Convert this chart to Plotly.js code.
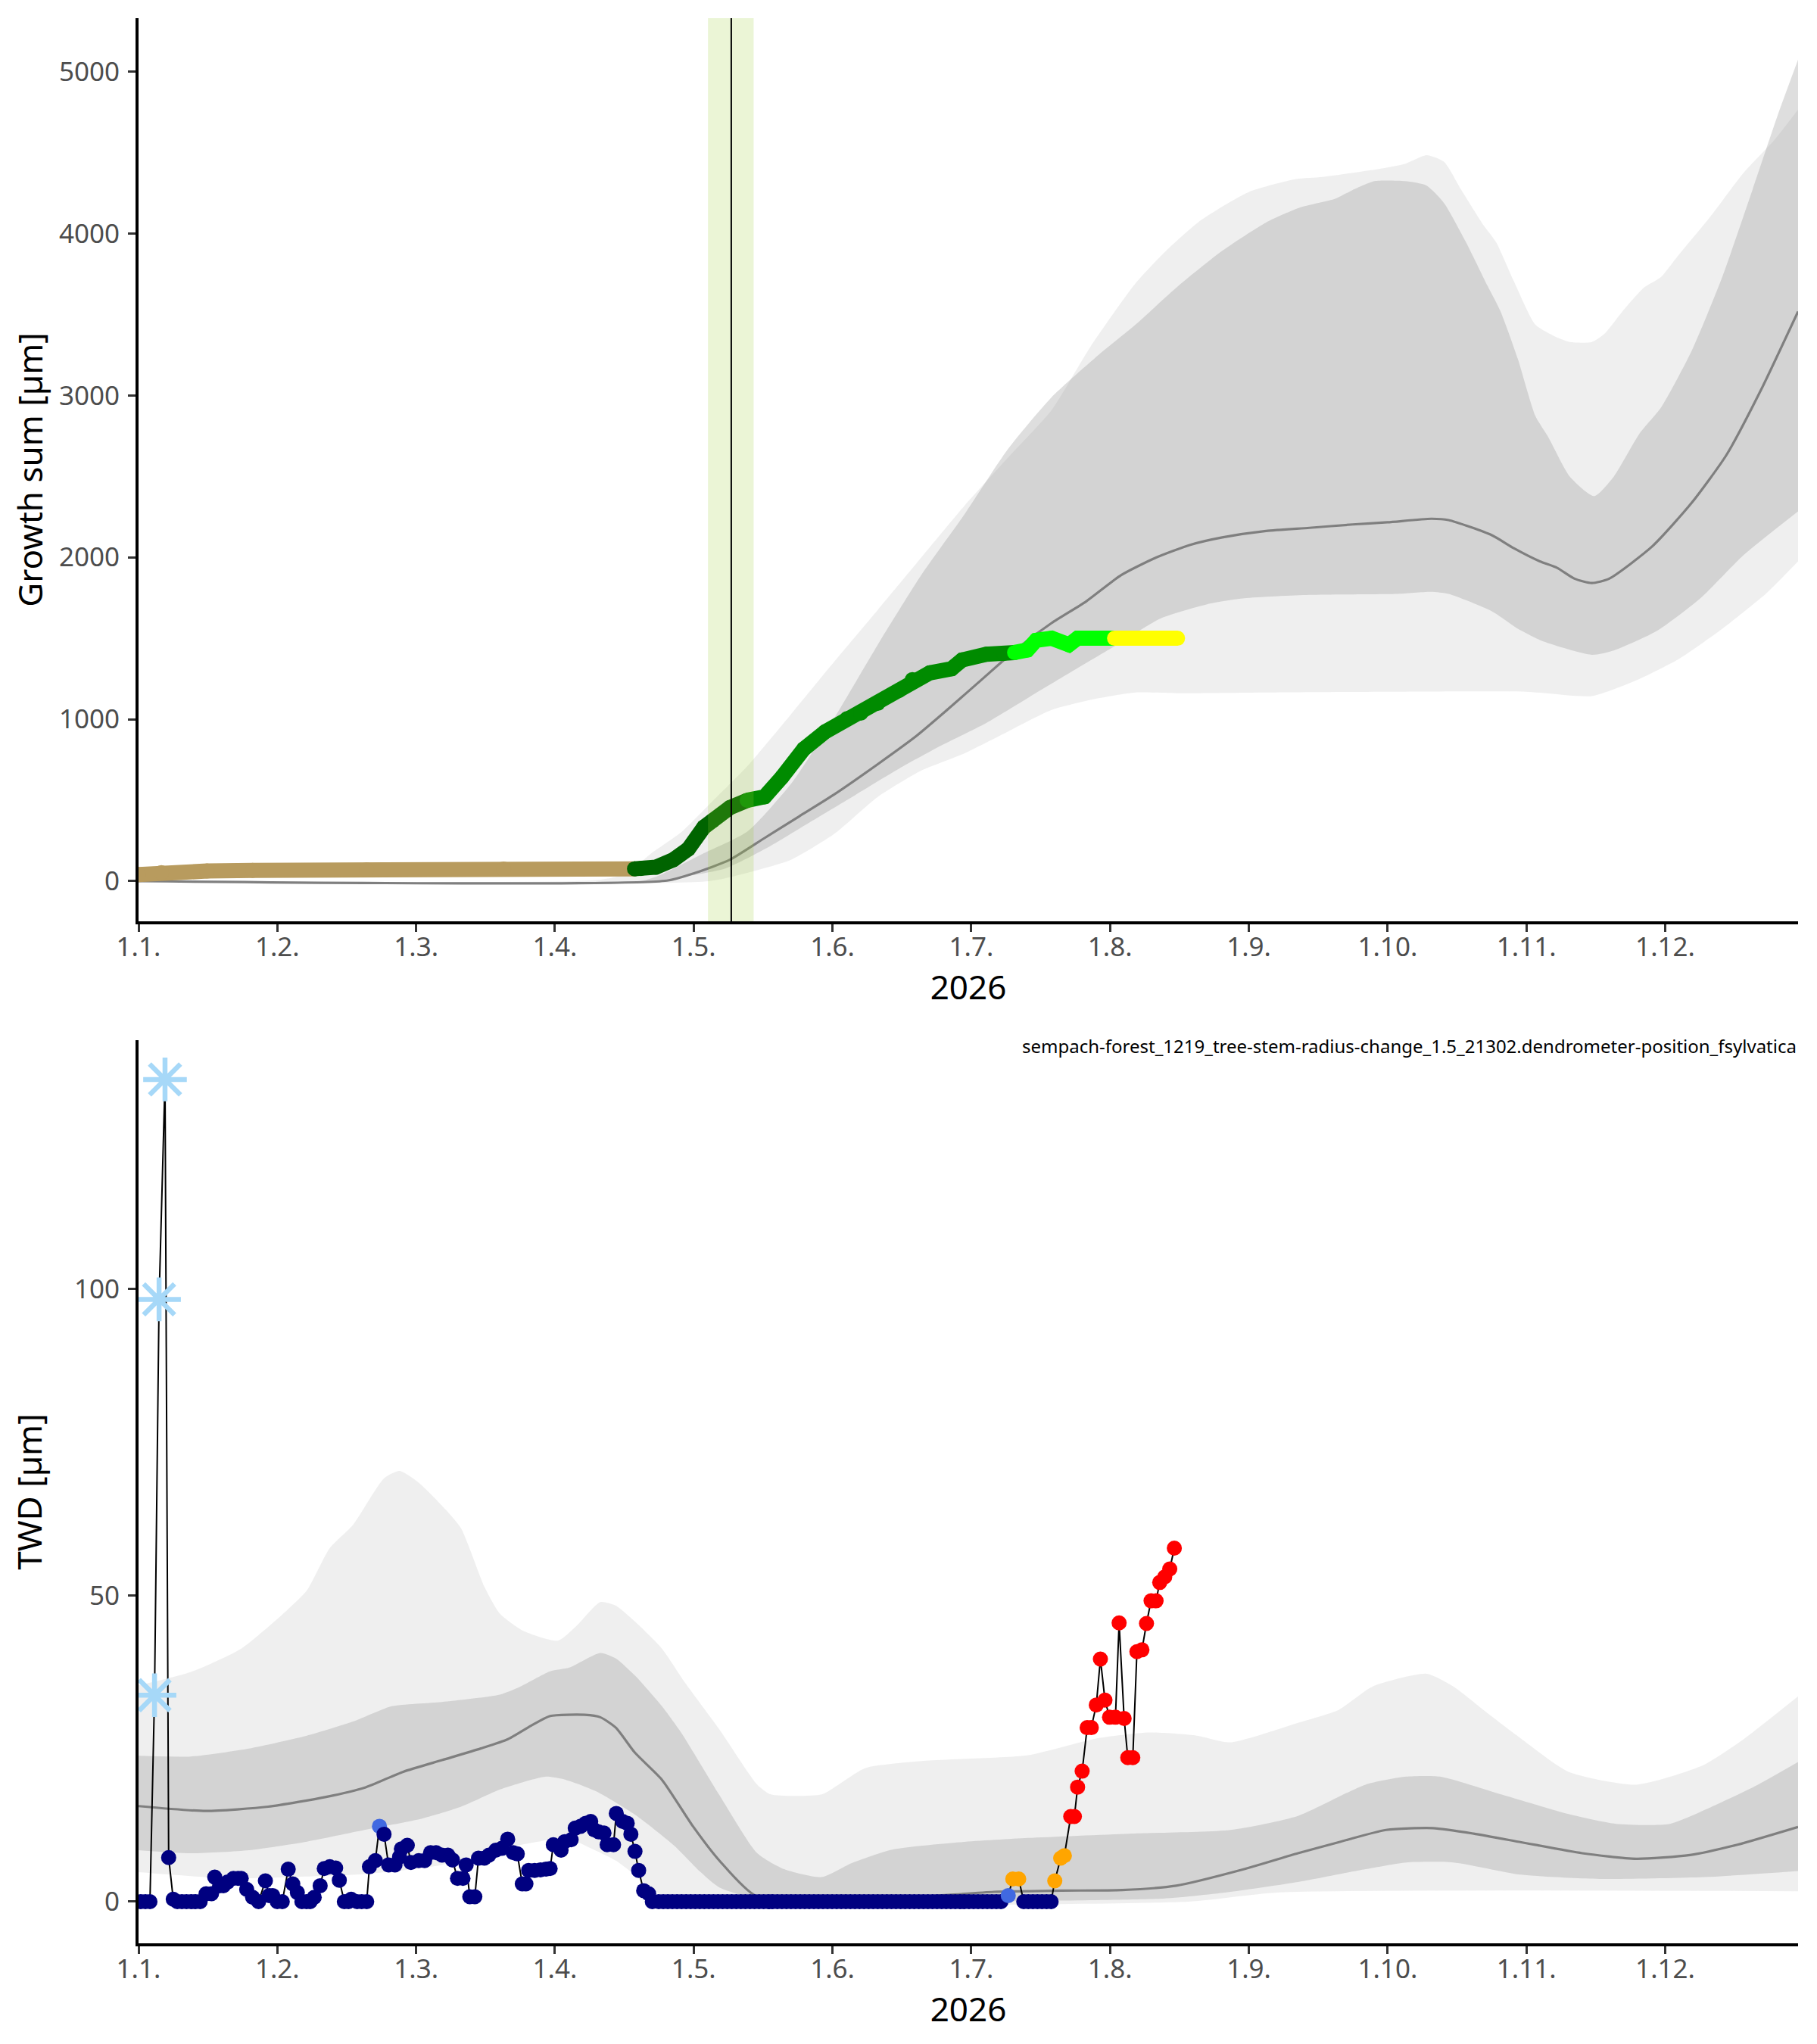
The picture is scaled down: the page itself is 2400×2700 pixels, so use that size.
<!DOCTYPE html>
<html>
<head>
<meta charset="utf-8">
<script src="https://cdn.plot.ly/plotly-3.0.1.min.js"></script>
<style>
  html, body { margin: 0; padding: 0; background: #ffffff; }
  #chart { width: 2400px; height: 2700px; }
</style>
</head>
<body>
<div id="chart"></div>
<script>
// ----- axis labels -----
const MONTH_LABELS = ["1.1.", "1.2.", "1.3.", "1.4.", "1.5.", "1.6.",
                      "1.7.", "1.8.", "1.9.", "1.10.", "1.11.", "1.12."];
const YEAR_LABEL = "2026";
const SENSOR_NAME = "sempach-forest_1219_tree-stem-radius-change_1.5_21302.dendrometer-position_fsylvatica";

// ----- growth sum (top), [day of year, µm] -----
const GROWTH_OUTER_HIGH = [[0,0],[100,5],[105,30],[109.6,105],[112.4,172],[119.1,306],[125.8,494],[133.4,709],
  [143,1031],[152.4,1353],[162,1675],[171.5,1997],[181,2318],[190.5,2614],[200.1,2909],[208.6,3300],[218.5,3692],
  [225.2,3893],[232.8,4081],[243.3,4256],[253.7,4336],[259.5,4349],[272.8,4403],[277.5,4430],[282.3,4484],
  [286.1,4443],[289.9,4269],[294.7,4054],[297.5,3947],[301.4,3706],[306.1,3437],[310,3370],[313.7,3330],
  [318.5,3330],[321.4,3384],[325.2,3518],[329.9,3665],[333.7,3732],[337.5,3866],[344.2,4094],[351.8,4376],
  [358.5,4577],[363.7,4765]];
const GROWTH_OUTER_LOW = [[0,0],[125,0],[133.4,51],[143,132],[152.4,290],[162,520],[171.5,682],[181,789],
  [190.5,923],[200.1,1057],[209.6,1125],[218.5,1165],[228,1160],[247,1165],[275,1170],[304,1170],[318.5,1143],
  [328,1237],[337.5,1371],[347.1,1559],[356.6,1774],[363.7,1975]];
const GROWTH_INNER_HIGH = [[0,0],[110,0],[114.4,38],[123.9,172],[133.4,306],[143,601],[152.4,1004],[162,1460],
  [171.5,1889],[181,2265],[190.5,2667],[200.1,2989],[209.6,3231],[218.5,3437],[228,3679],[237.5,3893],
  [247.1,4068],[254.7,4162],[262.3,4215],[266.1,4269],[270.9,4323],[277.5,4323],[282.3,4296],[286.1,4188],
  [290.9,3947],[295.6,3679],[298.5,3518],[302.3,3223],[306.1,2874],[309,2740],[313.7,2498],[319,2378],
  [323.3,2498],[329,2766],[333.7,2927],[340.4,3276],[347.1,3732],[353.7,4269],[359.5,4752],[363.7,5074]];
const GROWTH_INNER_LOW = [[0,0],[115,0],[119.1,25],[128.6,78],[138.2,212],[147.7,373],[157.2,534],[166.7,695],
  [176.3,843],[185.8,977],[195.3,1138],[204.8,1299],[214.4,1460],[223.9,1621],[235,1715],[242.3,1747],
  [256.6,1768],[275.6,1774],[283.3,1787],[287.1,1774],[296.6,1667],[302.3,1559],[308,1479],[318.5,1398],
  [323.3,1425],[332.8,1546],[342.3,1747],[351.8,2015],[363.7,2284]];
const GROWTH_MEAN = [[0,0],[115.8,3],[122,51],[129.6,132],[137.2,266],[144.8,400],[152.4,534],[162,722],
  [170.5,897],[177.2,1057],[184.8,1245],[192.4,1433],[200.1,1594],[207.7,1728],[215.3,1889],[222.9,1997],
  [230.5,2077],[237.5,2123],[247.1,2163],[256.6,2182],[266.1,2203],[273.7,2216],[283.3,2238],[287.1,2230],
  [296.6,2136],[301.4,2056],[307.1,1975],[310.9,1935],[314.7,1868],[318.5,1841],[322.3,1868],[331.8,2069],
  [340.4,2337],[348,2632],[355.6,3035],[363.7,3518]];

// this year's growth, one list per phase
const GROWTH_DORMANT = [[0,40],[5,52],[15,62],[25,66],[50,70],[80,74],[108.7,76]];
const GROWTH_ONSET   = [[108.7,76],[110.1,78],[113.4,86],[117.2,132],[120.5,199],[123.9,333],[125.8,373],
  [129.6,454],[133.4,499]];
const GROWTH_MAIN    = [[133.4,499],[137.2,521],[141,642],[145.8,816],[150.5,923],[155.3,1004],[158.3,1038],
  [162,1098],[166.7,1178],[169.6,1245],[173.4,1286],[178.2,1312],[180.5,1366],[185.8,1401],[189.6,1406],
  [192,1412]];
const GROWTH_LATE    = [[192,1412],[194.8,1428],[196.7,1487],[200.1,1500],[203.9,1460],[205.8,1500],
  [209.6,1500],[213.9,1500]];
const GROWTH_STOP    = [[213.9,1500],[220,1500],[227.7,1500]];

const ONSET_WINDOW = [124.8, 134.8];
const ONSET_DAY = 129.9;

// ----- TWD (bottom), [day of year, µm, class] -----
// n = normal, b = light blue, o = orange, r = red, s = flagged (star)
const TWD_OUTER_HIGH = [[0,35.3],[11.5,37.5],[22.5,41.3],[32.6,47.6],[36.9,50.8],[41.9,57.7],[47,61.5],
  [53.8,69.1],[57.2,70.3],[61.4,68.4],[67.3,64],[70.7,60.9],[75.8,51.4],[79.2,47],[84.3,44.2],[91.9,42.6],
  [96.1,45.1],[101.2,48.9],[104.6,48.3],[108.8,45.7],[114.7,41.3],[119.8,35.7],[127.3,28.1],[135.6,19.1],
  [138.6,17.5],[149.7,17.5],[153.4,19.1],[159.3,21.8],[172.6,23],[194.9,23.9],[209.7,26.6],[221.5,27.6],
  [231.9,27.1],[239.3,26],[254.1,29.2],[263,31.3],[270.4,35.1],[282.3,37.2],[288.2,35.1],[295.6,30.8],
  [303,26.6],[313.4,21.2],[328.2,19.1],[343,22.3],[351.9,26.6],[363.7,33.5]];
const TWD_OUTER_LOW = [[0,4.8],[19.9,3.8],[36.9,4.1],[49.5,4.5],[66.5,6],[79.2,8.6],[87.6,9.8],[93.6,10.5],
  [98.6,8.9],[104.6,6.7],[111.3,2.9],[114.7,1],[117.3,0],[230,0],[250,1.5],[363.7,1.7]];
const TWD_INNER_HIGH = [[0,23.8],[11.5,23.7],[24.2,25],[36.9,27.1],[47,29.4],[55.5,31.9],[66.5,32.6],
  [79.2,33.8],[83.4,35],[90.2,37.6],[94.4,38.2],[101.2,40.6],[104.6,39.7],[108.8,36.9],[114.7,31.9],
  [119,27.5],[127.3,17.4],[135.6,7.9],[141.5,5.3],[149.7,4],[156.3,6.3],[165.2,8.5],[180,9.7],[194.9,10.4],
  [217.1,11.1],[239.3,11.7],[254.1,14],[268.9,19.1],[277.8,20.4],[285.2,20.4],[298.6,17.5],[313.4,14.3],
  [323.8,12.7],[335.6,12.7],[346,15.9],[354.9,19.1],[363.7,22.8]];
const TWD_INNER_LOW = [[0,8.4],[11.5,7.9],[24.2,8.4],[36.9,9.8],[49.5,11.7],[62.3,13.6],[70.7,15.5],
  [79.2,18.3],[83.4,19.3],[89.3,20.4],[93.6,19.9],[100.3,18],[108.8,14.2],[117.3,9.2],[123.2,4.8],
  [127.3,2.3],[135.6,0.5],[224.5,0.5],[239.3,1.6],[254.1,3.2],[268.9,5.3],[277.8,6.4],[288.2,6.4],
  [303,4.4],[320.8,3.7],[343,4],[363.7,5]];
const TWD_MEAN = [[0,15.6],[14.8,14.8],[28.4,15.5],[41.1,17.1],[49.5,18.6],[58,21.2],[66.5,23.1],[75,25],
  [80.9,26.5],[86,28.7],[90.2,30.3],[97.8,30.5],[101.2,30.1],[104.6,28.4],[108.8,24.3],[114.7,19.9],
  [121.5,12.3],[127.3,6.7],[135.6,0.8],[165.2,0.5],[187.5,1.6],[202.3,1.8],[215.6,1.9],[227.4,2.6],
  [242.3,5.3],[254.1,7.9],[263,9.7],[273.4,11.7],[283.7,12],[292.6,11.1],[303,9.7],[316.4,7.9],[328.2,7],
  [340,7.6],[350.4,9.3],[363.7,12.2]];

const TWD = [
  [0.5,0,"n"],[1.5,0,"n"],[2.5,0,"n"],[3.5,33.7,"s"],[4.5,98.3,"s"],[5.8,134.2,"s"],[6.6,7.2,"n"],[7.6,0.4,"n"],
  [8.5,0,"n"],[9.5,0,"n"],[10.5,0,"n"],[11.5,0,"n"],[12.5,0,"n"],[13.5,0,"n"],[14.8,1.3,"n"],[16,1.3,"n"],
  [16.7,4,"n"],[17.8,2.6,"n"],[18.6,2.6,"n"],[19.5,3.2,"n"],[20.8,3.8,"n"],[21.8,3.8,"n"],[22.5,3.8,"n"],
  [23.7,2,"n"],[25,0.7,"n"],[26.3,0,"n"],[27.8,3.4,"n"],[28.6,1,"n"],[29.4,1,"n"],[30.4,0,"n"],[31.5,0,"n"],
  [32.8,5.3,"n"],[33.8,2.9,"n"],[34.8,1.5,"n"],[35.8,0,"n"],[36.8,0,"n"],[37.6,0,"n"],[38.5,0.7,"n"],
  [39.8,2.6,"n"],[40.7,5.4,"n"],[41.9,5.7,"n"],[43.2,5.5,"n"],[44,3.5,"n"],[45.1,0,"n"],[46,0,"n"],
  [46.6,0.4,"n"],[47.9,0,"n"],[48.9,0,"n"],[50,0,"n"],[50.6,5.7,"n"],[51.9,6.7,"n"],[52.8,12.3,"b"],
  [53.8,11,"n"],[54.8,6,"n"],[56.2,6,"n"],[57.2,7.3,"n"],[57.6,8.6,"n"],[58.9,9.2,"n"],[59.7,6.4,"n"],
  [61.4,6.7,"n"],[62.7,6.7,"n"],[64,8,"n"],[65.2,8,"n"],[66.5,7.6,"n"],[67.8,7.6,"n"],[68.8,6.8,"n"],
  [69.9,3.8,"n"],[71.1,3.8,"n"],[71.8,6,"n"],[72.6,0.8,"n"],[73.7,0.8,"n"],[74.5,7.1,"n"],[75.8,7.1,"n"],
  [76.8,7.6,"n"],[78.3,8.4,"n"],[79.6,8.7,"n"],[80.9,10.2,"n"],[82.1,8,"n"],[83,7.8,"n"],[84.1,2.9,"n"],
  [84.9,2.9,"n"],[85.5,5.1,"n"],[86.8,5.1,"n"],[88.1,5.2,"n"],[89.3,5.3,"n"],[90.2,5.4,"n"],[90.9,9.3,"n"],
  [92.6,8.4,"n"],[93.4,9.8,"n"],[94.8,10.1,"n"],[95.7,12,"n"],[96.9,12.3,"n"],[98,12.8,"n"],[99.1,13.1,"n"],
  [99.9,11.7,"n"],[100.8,11.4,"n"],[102,11.2,"n"],[102.7,9.3,"n"],[104.1,9.3,"n"],[104.7,14.4,"n"],
  [106.1,13.1,"n"],[107.1,12.8,"n"],[107.9,11,"n"],[108.8,8.2,"n"],[109.6,5.1,"n"],[110.7,1.8,"n"],
  [111.8,1.3,"n"],[112.6,0,"n"],
  [114,0,"n"],[115,0,"n"],[116,0,"n"],[117,0,"n"],[118,0,"n"],[119,0,"n"],[120,0,"n"],[121,0,"n"],
  [122,0,"n"],[123,0,"n"],[124,0,"n"],[125,0,"n"],[126,0,"n"],[127,0,"n"],[128,0,"n"],[129,0,"n"],
  [130,0,"n"],[131,0,"n"],[132,0,"n"],[133,0,"n"],[134,0,"n"],[135,0,"n"],[136,0,"n"],[137,0,"n"],
  [138,0,"n"],[139,0,"n"],[140,0,"n"],[141,0,"n"],[142,0,"n"],[143,0,"n"],[144,0,"n"],[145,0,"n"],
  [146,0,"n"],[147,0,"n"],[148,0,"n"],[149,0,"n"],[150,0,"n"],[151,0,"n"],[152,0,"n"],[153,0,"n"],
  [154,0,"n"],[155,0,"n"],[156,0,"n"],[157,0,"n"],[158,0,"n"],[159,0,"n"],[160,0,"n"],[161,0,"n"],
  [162,0,"n"],[163,0,"n"],[164,0,"n"],[165,0,"n"],[166,0,"n"],[167,0,"n"],[168,0,"n"],[169,0,"n"],
  [170,0,"n"],[171,0,"n"],[172,0,"n"],[173,0,"n"],[174,0,"n"],[175,0,"n"],[176,0,"n"],[177,0,"n"],
  [178,0,"n"],[179,0,"n"],[180,0,"n"],[181,0,"n"],[182,0,"n"],[183,0,"n"],[184,0,"n"],[185,0,"n"],
  [186,0,"n"],[187,0,"n"],[188,0,"n"],[189,0,"n"],
  [190.6,1,"b"],[191.6,3.7,"o"],[192.9,3.7,"o"],
  [194,0,"n"],[195,0,"n"],[196,0,"n"],[197,0,"n"],[198,0,"n"],[199,0,"n"],[200,0,"n"],
  [200.8,3.4,"o"],[202.1,7.1,"o"],[202.9,7.5,"o"],
  [204.3,13.9,"r"],[205.1,13.9,"r"],[205.8,18.7,"r"],[206.8,21.3,"r"],[207.9,28.4,"r"],[208.8,28.4,"r"],
  [209.9,32.1,"r"],[210.8,39.6,"r"],[211.8,32.9,"r"],[212.8,30.1,"r"],[214.1,30.1,"r"],[214.9,45.5,"r"],
  [216,29.9,"r"],[216.8,23.5,"r"],[217.9,23.5,"r"],[218.8,40.8,"r"],[219.9,41.1,"r"],[220.9,45.4,"r"],
  [221.9,49.1,"r"],[223,49.1,"r"],[223.8,52.1,"r"],[224.9,53,"r"],[226,54.3,"r"],[227,57.7,"r"]
];

// ----- styles -----
const FONT = "Noto Sans, Open Sans, DejaVu Sans, sans-serif";
const OUTER_FILL = "rgba(150,150,150,0.15)";
const INNER_FILL = "rgba(150,150,150,0.31)";
const MEAN_COLOR = "#7f7f7f";
const PHASE_COLORS = { dormant: "#b89b5e", onset: "#006400", main: "#008b00", late: "#00ff00", stop: "#ffff00" };
const TWD_COLORS = { n: "#000080", b: "#4169e1", o: "#ffa500", r: "#ff0000", s: "#ff0000" };
const STAR_COLOR = "#a6d8f8";

const xs = pts => pts.map(p => p[0]);
const ys = pts => pts.map(p => p[1]);

// ribbons: invisible lower edge, upper edge filled down to it
function band(low, high, fill, xa, ya) {
  const edge = { width: 0, shape: "spline", smoothing: 0.6 };
  return [
    { x: xs(low), y: ys(low), xaxis: xa, yaxis: ya, mode: "lines", line: edge,
      hoverinfo: "skip", showlegend: false },
    { x: xs(high), y: ys(high), xaxis: xa, yaxis: ya, mode: "lines", line: edge,
      fill: "tonexty", fillcolor: fill, hoverinfo: "skip", showlegend: false }
  ];
}

function meanLine(pts, xa, ya) {
  return { x: xs(pts), y: ys(pts), xaxis: xa, yaxis: ya, mode: "lines",
           line: { color: MEAN_COLOR, width: 3.2, shape: "spline", smoothing: 0.6 }, showlegend: false };
}

function phase(pts, color) {
  return { x: xs(pts), y: ys(pts), xaxis: "x", yaxis: "y", mode: "lines+markers",
           line: { color: color, width: 20 }, marker: { color: color, size: 20 }, showlegend: false };
}

const traces = [
  ...band(GROWTH_OUTER_LOW, GROWTH_OUTER_HIGH, OUTER_FILL, "x", "y"),
  ...band(GROWTH_INNER_LOW, GROWTH_INNER_HIGH, INNER_FILL, "x", "y"),
  meanLine(GROWTH_MEAN, "x", "y"),
  phase(GROWTH_DORMANT, PHASE_COLORS.dormant),
  phase(GROWTH_ONSET, PHASE_COLORS.onset),
  phase(GROWTH_MAIN, PHASE_COLORS.main),
  phase(GROWTH_LATE, PHASE_COLORS.late),
  phase(GROWTH_STOP, PHASE_COLORS.stop),

  ...band(TWD_OUTER_LOW, TWD_OUTER_HIGH, OUTER_FILL, "x2", "y2"),
  ...band(TWD_INNER_LOW, TWD_INNER_HIGH, INNER_FILL, "x2", "y2"),
  meanLine(TWD_MEAN, "x2", "y2"),
  { x: xs(TWD), y: ys(TWD), xaxis: "x2", yaxis: "y2", mode: "lines",
    line: { color: "#000000", width: 2 }, showlegend: false }
];

const dots = TWD.filter(p => p[2] !== "s");
traces.push({ x: xs(dots), y: ys(dots), xaxis: "x2", yaxis: "y2", mode: "markers",
  marker: { color: dots.map(p => TWD_COLORS[p[2]]), size: 20, line: { width: 0 } }, showlegend: false });

const stars = TWD.filter(p => p[2] === "s");
traces.push({ x: xs(stars), y: ys(stars), xaxis: "x2", yaxis: "y2", mode: "markers",
  marker: { color: TWD_COLORS.s, size: 7 }, showlegend: false });
traces.push({ x: xs(stars), y: ys(stars), xaxis: "x2", yaxis: "y2", mode: "markers",
  marker: { symbol: "asterisk-open", size: 48, color: STAR_COLOR, line: { color: STAR_COLOR, width: 6.5 } },
  showlegend: false });

// ----- axes -----
const monthTicks = MONTH_LABELS.map((_, i) => i * 365 / 12);

function xAxis(anchor) {
  return {
    anchor: anchor, domain: [0, 1], range: [0, 363.7],
    tickmode: "array", tickvals: monthTicks, ticktext: MONTH_LABELS,
    showline: true, linecolor: "#000000", linewidth: 4,
    ticks: "outside", ticklen: 10, tickwidth: 3, tickcolor: "#333333",
    tickfont: { family: FONT, size: 35, color: "#4d4d4d" }, ticklabelstandoff: -10,
    showgrid: false, zeroline: false,
    title: { text: YEAR_LABEL, font: { family: FONT, size: 44, color: "#000000" }, standoff: 3 }
  };
}

function yAxis(anchor, domain, range, ticks, title, standoff) {
  return {
    anchor: anchor, domain: domain, range: range,
    tickmode: "array", tickvals: ticks, ticktext: ticks.map(String),
    showline: true, linecolor: "#000000", linewidth: 4,
    ticks: "outside", ticklen: 10, tickwidth: 3, tickcolor: "#333333",
    tickfont: { family: FONT, size: 35, color: "#4d4d4d" }, ticklabelstandoff: 4,
    showgrid: false, zeroline: false,
    title: { text: title, font: { family: FONT, size: 44, color: "#000000" }, standoff: standoff }
  };
}

const layout = {
  width: 2400, height: 2700,
  margin: { l: 183, r: 25, t: 24, b: 133 },
  paper_bgcolor: "#ffffff", plot_bgcolor: "#ffffff",
  showlegend: false,
  font: { family: FONT },
  xaxis: xAxis("y"),
  yaxis: yAxis("x", [0.5309, 1], [-248, 5330], [0, 1000, 2000, 3000, 4000, 5000], "Growth sum [µm]", 8),
  xaxis2: xAxis("y2"),
  yaxis2: yAxis("x2", [0, 0.4691], [-6.8, 140.6], [0, 50, 100], "TWD [µm]", 30),
  shapes: [
    { type: "rect", xref: "x", yref: "y domain", x0: ONSET_WINDOW[0], x1: ONSET_WINDOW[1], y0: 0, y1: 1,
      fillcolor: "rgba(154,205,50,0.2)", line: { width: 0 }, layer: "above" },
    { type: "line", xref: "x", yref: "y domain", x0: ONSET_DAY, x1: ONSET_DAY, y0: 0, y1: 1,
      line: { color: "#000000", width: 2 }, layer: "above" }
  ],
  annotations: [
    { text: SENSOR_NAME, xref: "x2 domain", yref: "paper", x: 1, y: 0.466,
      xanchor: "right", yanchor: "middle", showarrow: false,
      font: { family: FONT, size: 24, color: "#000000" } }
  ]
};

Plotly.newPlot("chart", traces, layout, { displayModeBar: false, staticPlot: true });
</script>
</body>
</html>
